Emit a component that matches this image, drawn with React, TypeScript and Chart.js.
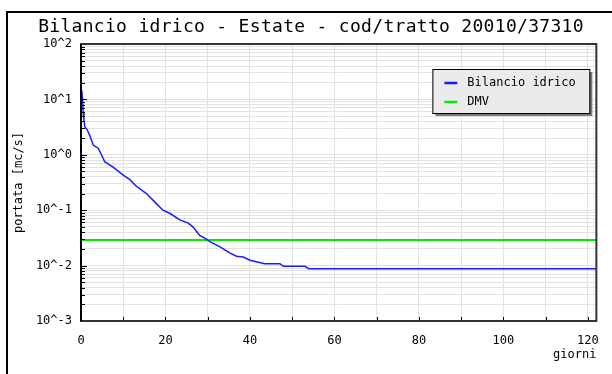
import { useEffect, useRef } from 'react';
import { Chart, registerables } from 'chart.js';

Chart.register(...registerables);

const TITLE = 'Bilancio idrico - Estate - cod/tratto 20010/37310';
const X_TITLE = 'giorni';
const Y_TITLE = 'portata [mc/s]';
const SERIES_LABELS = ['Bilancio idrico', 'DMV'];
const SERIES_COLORS = ['#1a1aff', '#00ee00'];

const bilancioDays = [0.2, 0.4, 0.5, 0.7, 0.9, 1.5, 2.1, 2.9, 4.1, 5.3, 5.6, 6.5, 7.6, 10, 11.5, 13.1, 15.5, 17.5, 19.4, 21, 23.4, 25.3, 26.5, 28.1, 29.7, 30.5, 32.8, 35.2, 36.8, 38.4, 40, 42, 43.5, 47.1, 47.9, 53, 53.9, 122];
const bilancioValues = [14.5, 9, 6, 4.2, 3.2, 2.8, 2.2, 1.5, 1.3, 0.85, 0.75, 0.68, 0.6, 0.43, 0.36, 0.27, 0.2, 0.14, 0.1, 0.088, 0.067, 0.059, 0.05, 0.035, 0.03, 0.027, 0.022, 0.017, 0.0148, 0.0143, 0.0125, 0.0115, 0.0108, 0.0108, 0.0097, 0.0097, 0.0088, 0.0088];
const dmvDays = [0, 122];
const dmvValues = [0.029, 0.029];

const xTickValues = [0, 10, 20, 30, 40, 50, 60, 70, 80, 90, 100, 110, 120];
const xLabelStep = 20;
const yDecades = [-3, -2, -1, 0, 1, 2];
const yMinorMultipliers = [2, 3, 4, 5, 6, 7, 8, 9];

const FONT = "'DejaVu Sans Mono', monospace";

function isDecade(v: number) {
  const l = Math.log10(v);
  return Math.abs(l - Math.round(l)) < 1e-9;
}

const decorPlugin = {
  id: 'decor',
  afterDraw(chart: any) {
    const ctx = chart.ctx;
    const a = chart.chartArea;
    const xs = chart.scales.x;
    const ys = chart.scales.y;
    ctx.save();
    // outer frame
    ctx.fillStyle = '#000';
    ctx.fillRect(6, 11, 606, 2);
    ctx.fillRect(6, 11, 2, 363);
    // title
    ctx.font = '18px ' + FONT;
    try { (ctx as any).letterSpacing = '0.3px'; } catch (e) {}
    ctx.textAlign = 'center';
    ctx.textBaseline = 'middle';
    ctx.fillStyle = '#000';
    ctx.fillText(TITLE, 311, 27);
    try { (ctx as any).letterSpacing = '0px'; } catch (e) {}
    // inward ticks
    ctx.strokeStyle = '#000';
    ctx.lineWidth = 1;
    ys.ticks.forEach((t: any) => {
      const y = Math.round(ys.getPixelForValue(t.value)) + 0.5;
      const len = isDecade(t.value) ? 6 : 4;
      ctx.beginPath();
      ctx.moveTo(a.left, y);
      ctx.lineTo(a.left + len, y);
      ctx.stroke();
    });
    xs.ticks.forEach((t: any) => {
      const x = Math.round(xs.getPixelForValue(t.value)) + 0.5;
      ctx.beginPath();
      ctx.moveTo(x, a.bottom);
      ctx.lineTo(x, a.bottom - 4);
      ctx.stroke();
    });
    // plot border
    ctx.strokeStyle = '#333';
    ctx.lineWidth = 2;
    ctx.strokeRect(a.left, a.top, a.right - a.left, a.bottom - a.top);
    ctx.strokeStyle = '#000';
    ctx.beginPath();
    ctx.moveTo(a.left, a.top);
    ctx.lineTo(a.left, a.bottom);
    ctx.stroke();
    // legend
    const bw = 157, bh = 44;
    const bx = a.right - 7 - bw;
    const by = a.top + 25;
    ctx.fillStyle = '#7a7a7a';
    ctx.fillRect(bx + 3, by + 3, bw, bh);
    ctx.fillStyle = '#ebebeb';
    ctx.fillRect(bx, by, bw, bh);
    ctx.strokeStyle = '#000';
    ctx.lineWidth = 1;
    ctx.strokeRect(bx + 0.5, by + 0.5, bw, bh);
    ctx.font = '12px ' + FONT;
    ctx.textAlign = 'left';
    ctx.textBaseline = 'middle';
    chart.data.datasets.forEach((ds: any, i: number) => {
      const ly = by + 14 + i * 19;
      ctx.strokeStyle = ds.borderColor;
      ctx.lineWidth = 2.5;
      ctx.beginPath();
      ctx.moveTo(bx + 12, ly);
      ctx.lineTo(bx + 25, ly);
      ctx.stroke();
      ctx.fillStyle = '#000';
      ctx.fillText(ds.label, bx + 35, ly);
    });
    ctx.restore();
  },
};

export default function App() {
  const ref = useRef<HTMLCanvasElement | null>(null);
  useEffect(() => {
    if (!ref.current) return;
    const chart = new Chart(ref.current, {
      type: 'scatter',
      data: {
        datasets: [
          {
            label: SERIES_LABELS[0],
            data: bilancioDays.map((d, i) => ({ x: d, y: bilancioValues[i] })),
            showLine: true,
            borderColor: SERIES_COLORS[0],
            borderWidth: 1.5,
            pointRadius: 0,
          },
          {
            label: SERIES_LABELS[1],
            data: dmvDays.map((d, i) => ({ x: d, y: dmvValues[i] })),
            showLine: true,
            borderColor: SERIES_COLORS[1],
            borderWidth: 2,
            pointRadius: 0,
          },
        ],
      },
      options: {
        animation: false,
        responsive: false,
        devicePixelRatio: 1,
        layout: { padding: { left: 0, right: 15, top: 44, bottom: 0 } },
        plugins: {
          legend: { display: false },
          title: { display: false },
          tooltip: { enabled: false },
        },
        scales: {
          x: {
            type: 'linear',
            min: 0,
            max: 122,
            afterBuildTicks: (s: any) => {
              s.ticks = xTickValues.map((v) => ({ value: v }));
            },
            afterFit: (s: any) => {
              s.height = 53;
            },
            ticks: {
              autoSkip: false,
              maxRotation: 0,
              padding: 13,
              color: '#000',
              font: { family: FONT, size: 12 },
              callback: (v: any) => (Number(v) % xLabelStep === 0 ? String(v) : ''),
            },
            grid: { color: '#e2e2e2', lineWidth: 1, drawTicks: false },
            border: { color: '#333', width: 2 },
            title: {
              display: true,
              text: X_TITLE,
              align: 'end',
              color: '#000',
              font: { family: FONT, size: 12 },
              padding: { top: 0, bottom: 12 },
            },
          },
          y: {
            type: 'logarithmic',
            min: 0.001,
            max: 100,
            afterBuildTicks: (s: any) => {
              const t: any[] = [];
              yDecades.forEach((e) => {
                t.push({ value: Math.pow(10, e) });
                if (e < yDecades[yDecades.length - 1]) {
                  yMinorMultipliers.forEach((m) => t.push({ value: m * Math.pow(10, e) }));
                }
              });
              s.ticks = t;
            },
            afterFit: (s: any) => {
              s.width = 81;
            },
            ticks: {
              autoSkip: false,
              padding: 9,
              color: '#000',
              font: { family: FONT, size: 12 },
              callback: (v: any) => (isDecade(Number(v)) ? '10^' + Math.round(Math.log10(Number(v))) : ''),
            },
            grid: { color: '#e2e2e2', lineWidth: 1, drawTicks: false },
            border: { color: '#000', width: 2 },
            title: {
              display: true,
              text: Y_TITLE,
              color: '#000',
              font: { family: FONT, size: 12 },
              padding: { top: 12, bottom: 0 },
            },
          },
        },
      },
      plugins: [decorPlugin],
    } as any);
    return () => chart.destroy();
  }, []);
  return (
    <div style={{ position: 'fixed', left: 0, top: 0, width: 612, height: 374, background: '#fff' }}>
      <canvas ref={ref} width={612} height={374} style={{ display: 'block', width: 612, height: 374 }} />
    </div>
  );
}
